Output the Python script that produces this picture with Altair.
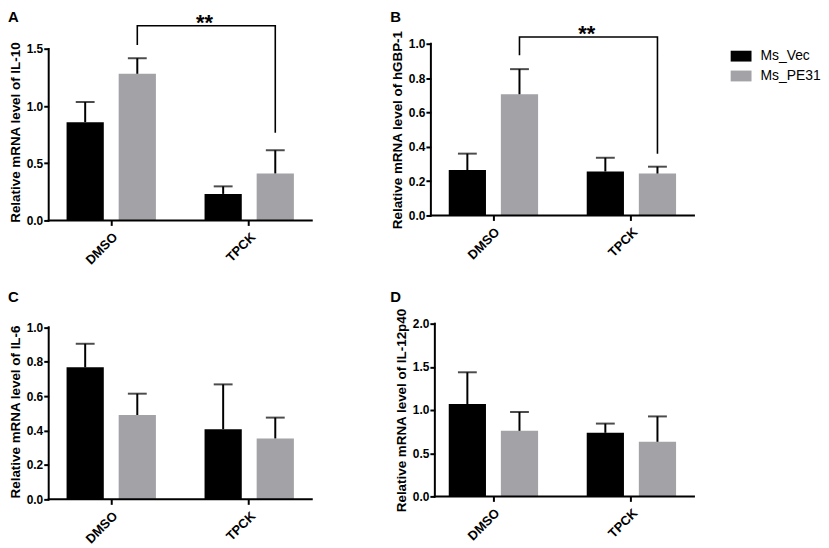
import altair as alt
import pandas as pd

# ---------------- data ----------------
treatments = ["DMSO", "TPCK"]
groups = ["Ms_Vec", "Ms_PE31"]

il10_vec = [0.86, 0.232]
il10_vec_err = [0.176, 0.066]
il10_pe = [1.283, 0.411]
il10_pe_err = [0.136, 0.203]
il10_bracket = [1.535, 1.703, 1.703, 0.767]

hgbp1_vec = [0.264, 0.256]
hgbp1_vec_err = [0.096, 0.080]
hgbp1_pe = [0.706, 0.244]
hgbp1_pe_err = [0.146, 0.040]
hgbp1_bracket = [0.933, 1.039, 1.039, 0.36]

il6_vec = [0.767, 0.408]
il6_vec_err = [0.137, 0.260]
il6_pe = [0.490, 0.354]
il6_pe_err = [0.124, 0.121]

il12_vec = [1.069, 0.736]
il12_vec_err = [0.368, 0.107]
il12_pe = [0.759, 0.632]
il12_pe_err = [0.218, 0.294]

ticks_a = [0, 0.5, 1.0, 1.5]
ticks_b = [0, 0.2, 0.4, 0.6, 0.8, 1.0]
ticks_c = [0, 0.2, 0.4, 0.6, 0.8, 1.0]
ticks_d = [0, 0.5, 1.0, 1.5, 2.0]

FONT = "Liberation Sans, Arial, Helvetica, sans-serif"
VEC_COLOR = "#000000"
PE_COLOR = "#a2a2a7"
W = 265

LEGEND = alt.Legend(
    title=None, orient="none", legendX=687, legendY=2,
    symbolType="M-1,-0.52H1V0.52H-1Z", symbolSize=441, symbolStrokeWidth=0,
    labelFontSize=14, labelFont=FONT, labelOffset=9, rowPadding=2, padding=0,
    labelColor="black",
)


def panel(letter, ytitle, vec, vec_err, pe, pe_err, ticks, dom_max, height,
          bracket=None, shift=0):
    df = pd.DataFrame({
        "treatment": treatments * 2,
        "group": [groups[0]] * 2 + [groups[1]] * 2,
        "mean": vec + pe,
        "err": vec_err + pe_err,
    })
    df["upper"] = df["mean"] + df["err"]

    xaxis = alt.Axis(labelAngle=-45, labelAlign="right", labelBaseline="top",
                     labelPadding=5, tickSize=5, domain=False)
    xscale = alt.Scale(paddingInner=0.3525, paddingOuter=0.1295)
    x = alt.X("treatment:N", sort=treatments, title=None, scale=xscale, axis=xaxis)
    xo = alt.XOffset("group:N", sort=groups,
                     scale=alt.Scale(paddingInner=0.2857, paddingOuter=0))
    yax = alt.Axis(values=ticks, format=".1f", domain=False, labelOverlap=False,
                   tickSize=5, labelPadding=1, titlePadding=4, offset=-shift)
    yscale = alt.Scale(domain=[0, dom_max], nice=False)

    def Y(field):
        return alt.Y(field, title=ytitle, scale=yscale, axis=yax)

    base = alt.Chart(df)
    bars = base.mark_bar().encode(
        x=x, xOffset=xo, y=Y("mean:Q"),
        color=alt.Color("group:N", sort=groups,
                        scale=alt.Scale(domain=groups, range=[VEC_COLOR, PE_COLOR]),
                        legend=LEGEND),
    )
    err = base.mark_rule(color="black", strokeWidth=2).encode(
        x=x, xOffset=xo, y=Y("mean:Q"), y2="upper:Q")
    cap = base.mark_tick(color="black", thickness=2, size=19).encode(
        x=x, xOffset=xo, y=Y("upper:Q"))

    yline = alt.Chart(pd.DataFrame({"a": [0], "b": [ticks[-1]]})).mark_rule(
        color="black", strokeWidth=2, strokeCap="square").encode(
        x=alt.value(shift), y=Y("a:Q"), y2="b:Q")
    xline = alt.Chart(pd.DataFrame({"a": [0]})).mark_rule(
        color="black", strokeWidth=2, strokeCap="square").encode(
        x=alt.value(shift), x2=alt.value(W), y=Y("a:Q"))
    lab = alt.Chart(pd.DataFrame({"t": [letter]})).mark_text(
        align="left", baseline="top", fontSize=15, fontWeight="bold",
        font=FONT, color="black").encode(
        text="t:N", x=alt.value(-41), y=alt.value(-34))

    layers = [bars, err, cap, yline, xline, lab]
    if bracket is not None:
        bdf = pd.DataFrame({
            "treatment": ["DMSO", "DMSO", "TPCK", "TPCK"],
            "group": [groups[1]] * 4,
            "v": bracket,
            "o": [0, 1, 2, 3],
        })
        br = alt.Chart(bdf).mark_line(color="black", strokeWidth=1.6).encode(
            x=x, xOffset=xo, y=Y("v:Q"), order="o:Q")
        sdf = pd.DataFrame({"treatment": ["TPCK"], "v": [bracket[1]], "t": ["**"]})
        star = alt.Chart(sdf).mark_text(
            fontSize=22, fontWeight="bold", font=FONT, baseline="alphabetic",
            dy=4, color="black").encode(
            x=alt.X("treatment:N", sort=treatments, title=None, scale=xscale,
                    axis=xaxis, bandPosition=0),
            y=Y("v:Q"), text="t:N")
        layers += [br, star]
    return alt.layer(*layers).properties(width=W, height=height)


pA = panel("A", "Relative mRNA level of IL-10", il10_vec, il10_vec_err,
           il10_pe, il10_pe_err, ticks_a, 1.546, 178, bracket=il10_bracket)
pB = panel("B", "Relative mRNA level of hGBP-1", hgbp1_vec, hgbp1_vec_err,
           hgbp1_pe, hgbp1_pe_err, ticks_b, 1.0, 173, bracket=hgbp1_bracket)
pC = panel("C", "Relative mRNA level of IL-6", il6_vec, il6_vec_err,
           il6_pe, il6_pe_err, ticks_c, 1.0208, 177)
pD = panel("D", "Relative mRNA level of IL-12p40", il12_vec, il12_vec_err,
           il12_pe, il12_pe_err, ticks_d, 2.0, 174, shift=4)

chart = (
    alt.concat(pA, pB, pC, pD, columns=2,
               spacing={"row": 104, "column": 120}, bounds="flush")
    .properties(padding=0)
    .configure(font=FONT)
    .configure_view(stroke=None)
    .configure_axis(
        grid=False, labelOverlap=False, labelColor="black", tickColor="black",
        tickWidth=2, titleColor="black", labelFont=FONT, titleFont=FONT,
        labelFontWeight="bold", titleFontWeight="bold", titleFontSize=13.5,
    )
    .configure_axisX(labelFontSize=13)
    .configure_axisY(labelFontSize=12)
)

chart.save("out.html", embed_options={"renderer": "svg", "actions": False})
